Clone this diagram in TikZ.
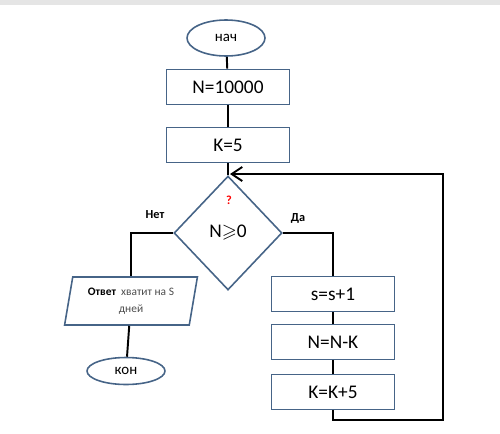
\documentclass[tikz,border=0pt]{standalone}
\usepackage{fontspec}
\usepackage{amssymb}
\setmainfont{Carlito}
\usetikzlibrary{shapes.geometric, arrows.meta, positioning}
\definecolor{edgeblue}{RGB}{70,100,135}
\begin{document}
\begin{tikzpicture}[x=0.02cm,y=-0.02cm,
  term/.style={ellipse,draw=edgeblue,line width=0.9pt,inner sep=0pt,minimum width=1.56cm,minimum height=0.72cm,font=\fontsize{8.5}{10}\selectfont},
  proc/.style={rectangle,draw=edgeblue,line width=0.9pt,minimum width=2.46cm,minimum height=0.7cm,font=\fontsize{11}{13}\selectfont},
  cond/.style={diamond,draw=edgeblue,line width=0.9pt,inner sep=0pt,minimum width=2.16cm,minimum height=2.28cm,font=\fontsize{11}{13}\selectfont},
  io/.style={trapezium,trapezium left angle=77,trapezium right angle=103,trapezium stretches=true,draw=edgeblue,line width=0.9pt,minimum width=2.66cm,minimum height=0.96cm,align=center,inner sep=0pt,text=black!70,font=\fontsize{6.5}{9.5}\selectfont},
  tag/.style={font=\bfseries\fontsize{7}{8}\selectfont},
  flow/.style={line width=1.1pt},
  back/.style={line width=1.1pt,-{Straight Barb[length=6pt,width=8pt]}}
]
  \useasboundingbox (0,0) rectangle (500,433);
  \fill[gray!20] (0,0) rectangle (500,5);

  \node[term](start)  at (226,38)  {нач};
  \node[proc](n1)     at (228,87)  {N=10000};
  \node[proc](k1)     at (228,145) {K=5};
  \node[cond](test)   at (228,233) {N$\geqslant$0};
  \node[text=red,font=\bfseries\fontsize{7}{8}\selectfont](q) at (229,200) {?};
  \node[tag](no)      at (155,215) {Нет};
  \node[tag](yes)     at (298,218) {Да};
  \node[io](out)      at (131,301) {\textbf{\color{black}Ответ}\ \ хватит на S\\дней};
  \node[term,minimum height=0.54cm](stop) at (126,371) {кон};
  \node[proc](inc)    at (333,294) {s=s+1};
  \node[proc](sub)    at (333,342) {N=N-K};
  \node[proc](kinc)   at (333,392) {K=K+5};
  \coordinate (loopout) at (443,420);
  \coordinate (loopin)  at (230,174);

  \draw[flow] (start) -- (n1);
  \draw[flow] (n1) -- (k1);
  \draw[flow] (k1) -- (test);
  \draw[flow] (test.west) -| (out.north);
  \draw[flow] (out) -- (stop);
  \draw[flow] (test.east) -| (inc.north);
  \draw[flow] (inc) -- (sub);
  \draw[flow] (sub) -- (kinc);
  \draw[back] (kinc.south) |- (loopout) |- (loopin);
\end{tikzpicture}
\end{document}
